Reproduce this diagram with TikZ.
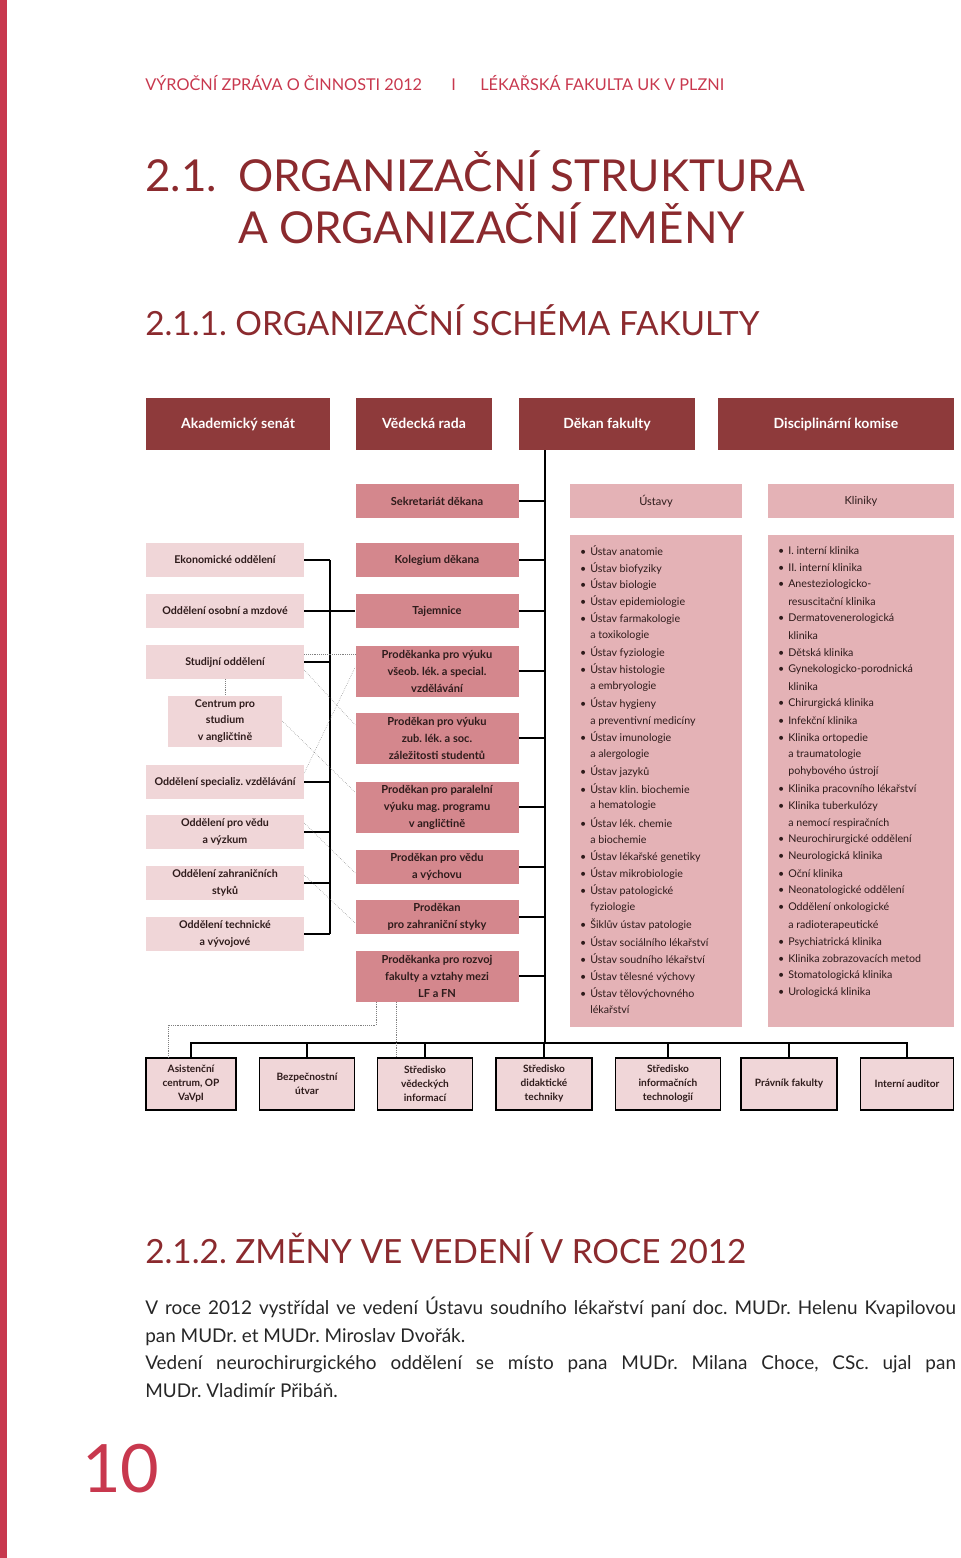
\documentclass[tikz,border=0pt]{standalone}
\usepackage{fontspec}
\setmainfont{Lato}
\usetikzlibrary{positioning}
\definecolor{darkred}{HTML}{8E3A3B}
\definecolor{midpink}{HTML}{D4878D}
\definecolor{listpink}{HTML}{E4B2B6}
\definecolor{palepink}{HTML}{F0D6D8}
\definecolor{headred}{HTML}{8B2A2E}
\definecolor{stripe}{HTML}{C8384E}
\definecolor{boxtxt}{HTML}{2E1B1B}
\newcommand\bl{\llap{\textbullet\hspace{3pt}}}
\frenchspacing
\tikzset{
  px/.style 2 args={minimum width=#1*0.75pt,minimum height=#2*0.75pt,inner sep=1pt,align=center},
  topbox/.style={fill=darkred,text=white,text height=1.6ex,text depth=0.4ex,font=\bfseries\fontsize{10.5}{12}\selectfont},
  midbox/.style={fill=midpink,text=boxtxt,font=\bfseries\fontsize{8.3}{12.7}\selectfont},
  headbox/.style={fill=listpink,text=boxtxt,font=\bfseries\fontsize{8.3}{12.7}\selectfont},
  leftbox/.style={fill=palepink,text=boxtxt,font=\bfseries\fontsize{8}{12.7}\selectfont},
  botbox/.style={fill=palepink,draw=black,line width=1pt,text=boxtxt,font=\bfseries\fontsize{7.6}{10.5}\selectfont},
  listtxt/.style={anchor=west,inner sep=0pt,text=boxtxt,font=\fontsize{8}{10}\selectfont},
  conn/.style={line width=1.1pt},
  dotl/.style={densely dotted,gray,line width=0.4pt}
}
\begin{document}
\begin{tikzpicture}[x=0.75pt,y=-0.75pt]
\useasboundingbox (0,0) rectangle (960,1558);
\fill[stripe] (0,0) rectangle (7,1558);
% header and headings
\node[anchor=base west,inner sep=0,text=stripe,font=\fontsize{12.2}{14}\selectfont] (hd1) at (145,91) {VÝROČNÍ ZPRÁVA O ČINNOSTI 2012};
\node[anchor=base west,inner sep=0,text=stripe,font=\fontsize{12.2}{14}\selectfont] (hd2) at (451,91) {I};
\node[anchor=base west,inner sep=0,text=stripe,font=\fontsize{12.2}{14}\selectfont] (hd3) at (480,91) {LÉKAŘSKÁ FAKULTA UK V PLZNI};
\node[anchor=base west,inner sep=0,text=headred,font=\fontsize{33}{36}\selectfont] (h1n) at (145,192) {2.1.};
\node[anchor=base west,inner sep=0,text=headred,font=\fontsize{33}{36}\selectfont] (h1a) at (238,192) {ORGANIZAČNÍ STRUKTURA};
\node[anchor=base west,inner sep=0,text=headred,font=\fontsize{33}{36}\selectfont] (h1b) at (238,244) {A ORGANIZAČNÍ ZMĚNY};
\node[anchor=base west,inner sep=0,text=headred,font=\fontsize{25}{28}\selectfont] (h2a) at (145,335) {2.1.1. ORGANIZAČNÍ SCHÉMA FAKULTY};
\node[anchor=base west,inner sep=0,text=headred,font=\fontsize{25}{28}\selectfont] (h2b) at (145,1263) {2.1.2. ZMĚNY VE VEDENÍ V ROCE 2012};
% top row
\node[topbox,px={184}{52}] (senat) at (238,424) {Akademický senát};
\node[topbox,px={136}{52}] (rada) at (424,424) {Vědecká rada};
\node[topbox,px={176}{52}] (dekan) at (607,424) {Děkan fakulty};
\node[topbox,px={236}{52}] (komise) at (836,424) {Disciplinární komise};
% middle column
\node[midbox,px={163}{34}] (sekr) at (437,501) {Sekretariát děkana};
\node[midbox,px={163}{34}] (koleg) at (437,560) {Kolegium děkana};
\node[midbox,px={163}{34}] (taj) at (437,611) {Tajemnice};
\node[midbox,px={163}{51}] (prod1) at (437,671) {Proděkanka pro výuku\\všeob. lék. a special.\\vzdělávání};
\node[midbox,px={163}{51}] (prod2) at (437,738) {Proděkan pro výuku\\zub. lék. a soc.\\záležitosti studentů};
\node[midbox,px={163}{51}] (prod3) at (437,807) {Proděkan pro paralelní\\výuku mag. programu\\v angličtině};
\node[midbox,px={163}{34}] (pveda) at (437,867) {Proděkan pro vědu\\a výchovu};
\node[midbox,px={163}{34}] (pzahr) at (437,917) {Proděkan\\pro zahraniční styky};
\node[midbox,px={163}{51}] (rozvoj) at (437,976) {Proděkanka pro rozvoj\\fakulty a vztahy mezi\\LF a FN};
% left column
\node[leftbox,px={158}{34}] (ekon) at (225,560) {Ekonomické oddělení};
\node[leftbox,px={158}{34}] (osob) at (225,611) {Oddělení osobní a mzdové};
\node[leftbox,px={158}{34}] (studij) at (225,662) {Studijní oddělení};
\node[leftbox,px={114}{51}] (centr) at (225,721) {Centrum pro\\studium\\v angličtině};
\node[leftbox,px={158}{34}] (spec) at (225,782) {Oddělení specializ. vzdělávání};
\node[leftbox,px={158}{34}] (oveda) at (225,832) {Oddělení pro vědu\\a výzkum};
\node[leftbox,px={158}{34}] (ozahr) at (225,883) {Oddělení zahraničních\\styků};
\node[leftbox,px={158}{34}] (tech) at (225,934) {Oddělení technické\\a vývojové};
% institutes and clinics
\node[headbox,font=\fontsize{8.3}{12.7}\selectfont,px={172}{34}] (ustavy) at (656,501) {Ústavy};
\node[headbox,font=\fontsize{8.3}{12.7}\selectfont,px={186}{34}] (kliniky) at (861,501) {Kliniky};
\node[fill=listpink,px={172}{492}] (ulist) at (656,781) {};
\node[fill=listpink,px={186}{492}] (klist) at (861,781) {};
\foreach \t [count=\i from 0] in {{\bl Ústav anatomie},{\bl Ústav biofyziky},{\bl Ústav biologie},{\bl Ústav epidemiologie},{\bl Ústav farmakologie},{a toxikologie},{\bl Ústav fyziologie},{\bl Ústav histologie},{a embryologie},{\bl Ústav hygieny},{a preventivní medicíny},{\bl Ústav imunologie},{a alergologie},{\bl Ústav jazyků},{\bl Ústav klin. biochemie},{a hematologie},{\bl Ústav lék. chemie},{a biochemie},{\bl Ústav lékařské genetiky},{\bl Ústav mikrobiologie},{\bl Ústav patologické},{fyziologie},{\bl Šiklův ústav patologie},{\bl Ústav sociálního lékařství},{\bl Ústav soudního lékařství},{\bl Ústav tělesné výchovy},{\bl Ústav tělovýchovného},{lékařství}}
  \node[listtxt] (u\i) at (590,551+17*\i) {\t};
\foreach \t [count=\i from 0] in {{\bl I. interní klinika},{\bl II. interní klinika},{\bl Anesteziologicko-},{resuscitační klinika},{\bl Dermatovenerologická},{klinika},{\bl Dětská klinika},{\bl Gynekologicko-porodnická},{klinika},{\bl Chirurgická klinika},{\bl Infekční klinika},{\bl Klinika ortopedie},{a traumatologie},{pohybového ústrojí},{\bl Klinika pracovního lékařství},{\bl Klinika tuberkulózy},{a nemocí respiračních},{\bl Neurochirurgické oddělení},{\bl Neurologická klinika},{\bl Oční klinika},{\bl Neonatologické oddělení},{\bl Oddělení onkologické},{a radioterapeutické},{\bl Psychiatrická klinika},{\bl Klinika zobrazovacích metod},{\bl Stomatologická klinika},{\bl Urologická klinika}}
  \node[listtxt] (k\i) at (788,551+17*\i) {\t};
% bottom row
\node[botbox,px={90}{52}] (asist) at (191,1084) {Asistenční\\centrum, OP\\VaVpI};
\node[botbox,px={95}{52}] (bezp) at (307,1084) {Bezpečnostní\\útvar};
\node[botbox,px={95}{52}] (stvi) at (425,1084) {Středisko\\vědeckých\\informací};
\node[botbox,px={96}{52}] (stdt) at (544,1084) {Středisko\\didaktické\\techniky};
\node[botbox,px={105}{52}] (stit) at (668,1084) {Středisko\\informačních\\technologií};
\node[botbox,px={96}{52}] (pravnik) at (789,1084) {Právník fakulty};
\node[botbox,px={93}{52}] (auditor) at (907,1084) {Interní auditor};
% connectors
\coordinate (spine) at (545,450);
\coordinate (busmid) at (545,1043);
\coordinate (lbus) at (330,560);
\coordinate (dotbend) at (168,1025);
\draw[conn] (spine) -- (busmid);
\foreach \n in {sekr,koleg,taj,prod1,prod2,prod3,pveda,pzahr,rozvoj}
  \draw[conn] (\n.east) -- (\n.east -| spine);
\foreach \n in {ekon,studij,spec,oveda,ozahr,tech}
  \draw[conn] (\n.east) -- (\n.east -| lbus);
\draw[conn] (lbus) -- (tech.east -| lbus);
\draw[conn] (osob.east) -- (taj.west);
\draw[conn] (asist.north) |- (busmid) -| (auditor.north);
\foreach \n in {bezp,stvi,stdt,stit,pravnik}
  \draw[conn] (\n.north) -- (\n.north |- busmid);
\draw[dotl] ([yshift=6pt]studij.east) -- ([yshift=12.75pt]prod1.west);
\draw[dotl] (studij.south) -- (centr.north);
\draw[dotl] ([yshift=-6pt]studij.east) -- ([yshift=9.75pt]prod2.west);
\draw[dotl] (centr.east) -- ([yshift=11pt]prod3.west);
\draw[dotl] ([yshift=6.75pt]spec.east) -- ([yshift=3pt]prod1.west);
\draw[dotl] ([yshift=6.75pt]oveda.east) -- ([yshift=-4.5pt]pveda.west);
\draw[dotl] ([yshift=6pt]ozahr.east) -- ([yshift=-4.5pt]pzahr.west);
\draw[dotl] ([xshift=-45.75pt]rozvoj.south) |- (dotbend) -- (dotbend |- asist.north);
\draw[dotl] ([xshift=-30.75pt]rozvoj.south) -- ([xshift=-30.75pt]rozvoj.south |- stvi.north);
% text
\node[anchor=north west,inner sep=0,text width=608pt,align=justify,text=black!85,font=\fontsize{14.2}{20.6}\selectfont] (para) at (145,1297)
  {V roce 2012 vystřídal ve vedení Ústavu soudního lékařství paní doc. MUDr. Helenu Kvapilovou\linebreak pan MUDr. et MUDr. Miroslav Dvořák.\newline Vedení neurochirurgického oddělení se místo pana MUDr. Milana Choce, CSc. ujal pan\linebreak MUDr. Vladimír Přibáň.};
\node[anchor=base west,inner sep=0,text=stripe,font=\fontsize{50}{50}\selectfont] (pgnum) at (82,1492) {10};
\end{tikzpicture}
\end{document}
